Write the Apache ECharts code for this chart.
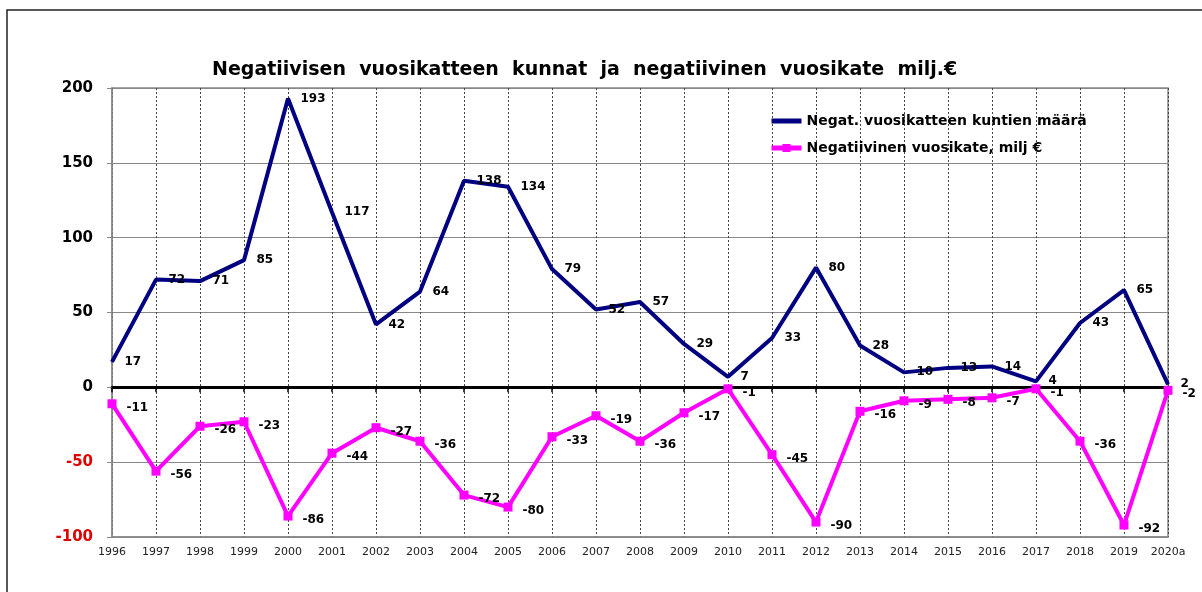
<!DOCTYPE html>
<html>
<head>
<meta charset="utf-8">
<script src="https://cdn.jsdelivr.net/npm/echarts@6/dist/echarts.min.js"></script>
<style>
html,body{margin:0;padding:0;background:#fff;}
#chart{width:1202px;height:592px;}
</style>
</head>
<body>
<div id="chart"></div>
<script>
const titleText = 'Negatiivisen  vuosikatteen  kunnat  ja  negatiivinen  vuosikate  milj.€';
const categories = ['1996','1997','1998','1999','2000','2001','2002','2003','2004','2005','2006','2007','2008','2009','2010','2011','2012','2013','2014','2015','2016','2017','2018','2019','2020a'];
const seriesNames = ['Negat. vuosikatteen kuntien määrä', 'Negatiivinen vuosikate, milj €'];
const municipalities = [17,72,71,85,193,117,42,64,138,134,79,52,57,29,7,33,80,28,10,13,14,4,43,65,2];
const negativeMargin = [-11,-56,-26,-23,-86,-44,-27,-36,-72,-80,-33,-19,-36,-17,-1,-45,-90,-16,-9,-8,-7,-1,-36,-92,-2];
const yMin = -100, yMax = 200, yStep = 50;

const FONT = 'DejaVu Sans';
const chart = echarts.init(document.getElementById('chart'), null, {renderer: 'canvas'});
chart.setOption({
  animation: false,
  backgroundColor: '#fff',
  title: {
    text: titleText,
    left: 207, top: 56,
    textStyle: {fontFamily: FONT, fontWeight: 'bold', fontSize: 19, color: '#000'}
  },
  graphic: [{
    type: 'rect', silent: true, z: 100,
    shape: {x: 7, y: 10, width: 1400, height: 800},
    style: {fill: 'none', stroke: '#222', lineWidth: 1.5}
  }],
  legend: {
    left: 764, top: 109, orient: 'vertical', itemGap: 13,
    itemWidth: 30, itemHeight: 10,
    lineStyle: {width: 5},
    textStyle: {fontFamily: FONT, fontWeight: 'bold', fontSize: 14, color: '#000'},
    data: [{name: seriesNames[0], itemStyle: {opacity: 0}}, {name: seriesNames[1]}]
  },
  grid: {left: 112, right: 34, top: 88, bottom: 55, containLabel: false,
         show: true, borderColor: '#888', borderWidth: 1.5},
  xAxis: [{
    type: 'category', data: categories, boundaryGap: false, position: 'bottom',
    axisLine: {onZero: false, lineStyle: {color: '#888', width: 1.5}},
    axisTick: {show: false},
    axisLabel: {fontFamily: FONT, fontSize: 11, color: '#222', margin: 10, interval: 0},
    splitLine: {show: true, lineStyle: {color: '#444', type: [2, 2], width: 1}}
  }, {
    type: 'category', data: categories, boundaryGap: false, position: 'top',
    axisLine: {onZero: true, lineStyle: {color: '#000', width: 3}},
    axisTick: {show: true, inside: true, length: 5, interval: 0, lineStyle: {color: '#000', width: 1.5}},
    axisLabel: {show: false},
    splitLine: {show: false}
  }],
  yAxis: {
    type: 'value', min: yMin, max: yMax, interval: yStep,
    axisLine: {show: true, lineStyle: {color: '#888', width: 1.5}},
    axisTick: {show: true, length: 5, lineStyle: {color: '#888'}},
    axisLabel: {
      fontFamily: FONT, fontWeight: 'bold', fontSize: 15, margin: 19,
      color: v => (Number(v) < 0 ? '#e00000' : '#000')
    },
    splitLine: {show: true, lineStyle: {color: '#888', width: 1}}
  },
  series: [{
    name: seriesNames[0], type: 'line', data: municipalities,
    symbol: 'circle', symbolSize: 1, showSymbol: true,
    lineStyle: {color: '#000080', width: 4}, itemStyle: {color: '#000080'},
    label: {show: true, position: 'right', distance: 12, fontFamily: FONT, fontWeight: 'bold', fontSize: 12, color: '#000'},
    z: 3
  }, {
    name: seriesNames[1], type: 'line', data: negativeMargin,
    symbol: 'rect', symbolSize: 9,
    lineStyle: {color: '#ff00ff', width: 4}, itemStyle: {color: '#ff00ff'},
    label: {show: true, position: 'right', distance: 10, offset: [0, 4], fontFamily: FONT, fontWeight: 'bold', fontSize: 12, color: '#000'},
    z: 3
  }]
});
</script>
</body>
</html>
